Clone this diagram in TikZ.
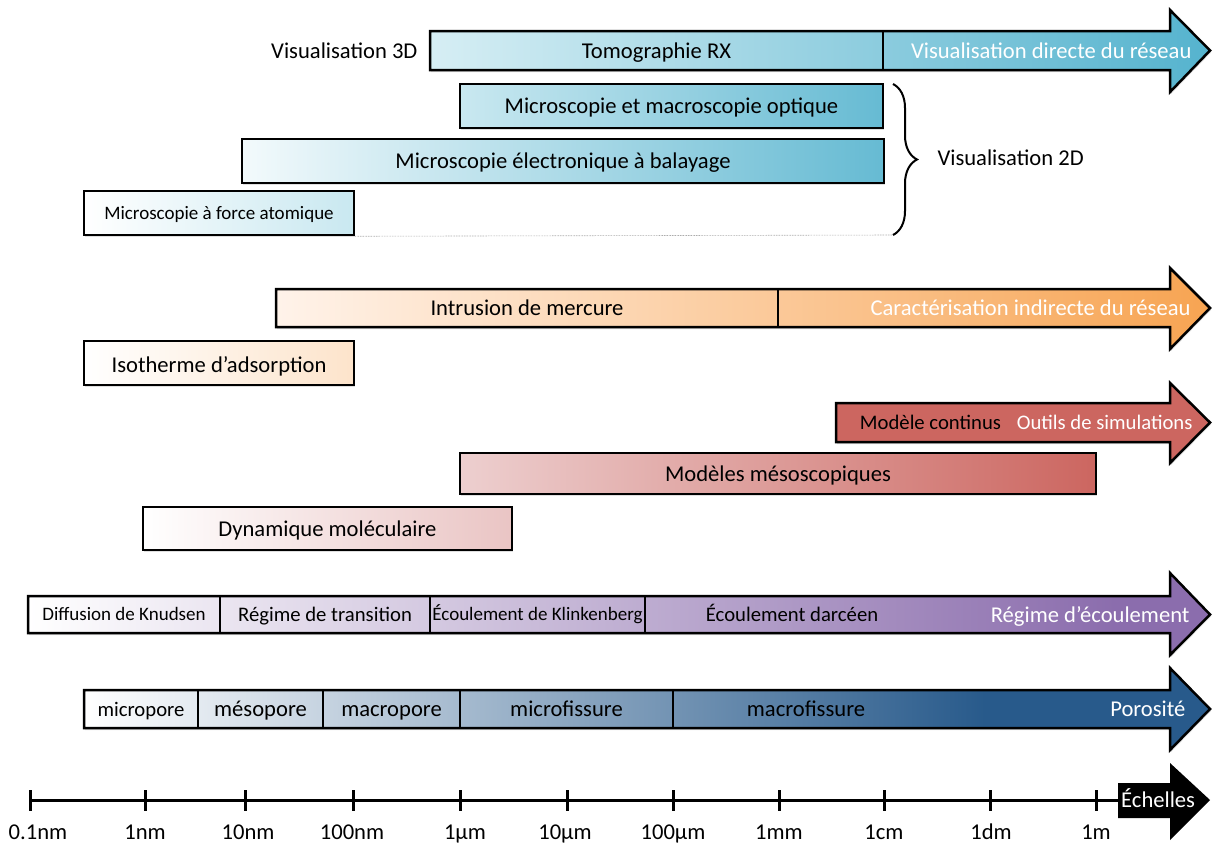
\documentclass[tikz,border=0pt]{standalone}
\usepackage{fontspec}
\setmainfont{Carlito}
\usetikzlibrary{decorations.pathreplacing,shadows}

\definecolor{bleuclair}{HTML}{D6EEF4}
\definecolor{bleu}{HTML}{55B3CE}
\definecolor{orangeclair}{HTML}{FFF3EA}
\definecolor{orangefonce}{HTML}{F7A452}
\definecolor{rouge}{HTML}{CC6660}
\definecolor{rougeclair}{HTML}{EDCFCF}
\definecolor{violet}{HTML}{8B6DAD}
\definecolor{marine}{HTML}{285A8B}

\pgfdeclarehorizontalshading{poro}{100bp}{color(0bp)=(white); color(25bp)=(white); color(65bp)=(marine); color(100bp)=(marine)}
\pgfdeclarehorizontalshading{regim}{100bp}{color(0bp)=(white); color(25bp)=(white); color(71bp)=(violet); color(100bp)=(violet)}

\tikzset{
  txt/.style={font=\fontsize{22.6}{27}\selectfont, text height=18, text depth=3},
  moyen/.style={font=\fontsize{20.7}{25}\selectfont, text height=17, text depth=3},
  petit/.style={font=\fontsize{19}{23}\selectfont, text height=15, text depth=2.5},
  ombre/.style={drop shadow={opacity=0.25, shadow xshift=1pt, shadow yshift=-2pt}},
  boite/.style={draw=black, line width=2.5pt, minimum height=44, inner sep=0pt, txt, ombre},
  fleche/.style={draw=black, line width=2.5pt, line join=miter, ombre},
  segment/.style={minimum height=38, inner sep=0pt, txt},
  trait/.style={line width=1.5pt},
}

\begin{document}
\begin{tikzpicture}[x=1pt, y=-1pt]
  \useasboundingbox (0,0) rectangle (1215,844);

  % visualisation
  \path[fleche, left color=bleuclair, right color=bleu] (430,31) -- (1170,31) -- (1170,10) -- (1210,50.5) -- (1170,92) -- (1170,70) -- (430,70) -- cycle;
  \node[segment, minimum width=453] (tomo) at (656.5,50.5) {Tomographie RX};
  \node[txt, text=white, anchor=east] (directe) at (1195,50.5) {Visualisation directe du réseau};
  \draw[trait] (tomo.north east) -- (tomo.south east);
  \node[txt, anchor=east] (vis3d) at (421,50.5) {Visualisation 3D};

  \node[boite, minimum width=423, left color=bleuclair!90!bleu, right color=bleu!90!white] (optique) at (671.5,106) {Microscopie et macroscopie optique};
  \node[boite, minimum width=642, left color=bleuclair!30, right color=bleu!90!white] (meb) at (563,161) {Microscopie électronique à balayage};
  \node[boite, petit, minimum width=270, left color=white, right color=bleuclair!90!bleu] (afm) at (219,213) {Microscopie à force atomique};

  \coordinate (acc) at (893,235);
  \draw[densely dotted, gray, line width=0.6pt] (afm.south east) -- (acc);
  \draw[decorate, decoration={brace, amplitude=24pt}, line width=2pt] (893,84) -- (acc);
  \node[txt, anchor=west] (vis2d) at (934,158) {Visualisation 2D};

  % caracterisation
  \path[fleche, left color=orangeclair, right color=orangefonce] (276,289) -- (1170,289) -- (1170,268) -- (1210,308) -- (1170,349) -- (1170,327) -- (276,327) -- cycle;
  \node[segment, minimum width=502] (mercure) at (527,308) {Intrusion de mercure};
  \node[txt, text=white, anchor=east] (indirecte) at (1194,308) {Caractérisation indirecte du réseau};
  \draw[trait] (mercure.north east) -- (mercure.south east);

  \node[boite, minimum width=270, left color=white, right color=orangefonce!30, text height=19, text depth=0] (isotherme) at (219,363) {Isotherme d’adsorption};

  % simulation
  \path[fleche, fill=rouge] (836,403) -- (1170,403) -- (1170,383) -- (1210,422.5) -- (1170,463) -- (1170,442) -- (836,442) -- cycle;
  \node[moyen] (continus) at (930.5,422.5) {Modèle continus};
  \node[moyen, text=white, anchor=east] (simul) at (1196,422.5) {Outils de simulations};

  \node[boite, minimum height=41, minimum width=636, left color=rougeclair, right color=rouge] (mesosc) at (778,473.5) {Modèles mésoscopiques};
  \node[boite, minimum height=43, minimum width=369, left color=white, right color=rougeclair!90!rouge] (dynamique) at (327.5,528.5) {Dynamique moléculaire};

  % ecoulement
  \path[fleche, shade, shading=regim] (28,596) -- (1170,596) -- (1170,573) -- (1210,614.5) -- (1170,655) -- (1170,633) -- (28,633) -- cycle;
  \node[segment, petit, minimum width=192] (knudsen) at (124,614.5) {Diffusion de Knudsen};
  \node[segment, moyen, minimum width=210] (transition) at (325,614.5) {Régime de transition};
  \node[segment, petit, minimum width=215] (klink) at (537.5,614.5) {Écoulement de Klinkenberg};
  \node[moyen] (darcy) at (792,614.5) {Écoulement darcéen};
  \node[txt, text=white, anchor=east] (regime) at (1193,614.5) {Régime d’écoulement};
  \draw[trait] (knudsen.north east) -- (knudsen.south east);
  \draw[trait] (transition.north east) -- (transition.south east);
  \draw[trait] (klink.north east) -- (klink.south east);

  % porosite
  \path[fleche, shade, shading=poro] (84,690) -- (1170,690) -- (1170,668) -- (1210,709) -- (1170,750) -- (1170,728) -- (84,728) -- cycle;
  \node[segment, moyen, minimum width=114] (micro) at (141,709) {micropore};
  \node[segment, minimum width=125] (meso) at (260.5,709) {mésopore};
  \node[segment, minimum width=137] (macro) at (391.5,709) {macropore};
  \node[segment, minimum width=213] (microf) at (566.5,709) {microfissure};
  \node[txt] (macrof) at (806,709) {macrofissure};
  \node[txt, text=white, anchor=east] (porosite) at (1189,709) {Porosité};
  \foreach \n in {micro,meso,macro,microf}
    \draw[trait] (\n.north east) -- (\n.south east);

  % echelles
  \path[fill=black] (1118,783) -- (1170,783) -- (1170,763) -- (1210,800) -- (1170,840) -- (1170,818) -- (1118,818) -- cycle;
  \node[txt, text=white, anchor=west, inner sep=0pt] (echelles) at (1121,800) {Échelles};
  \coordinate (e0) at (1118,800);
  \foreach \x/\lx/\lab [count=\i] in {30/38/0.1nm,145/145/1nm,245/248/10nm,353/352/100nm,460/465/1µm,567/565/10µm,673/673/100µm,779/779/1mm,884/884/1cm,990/991/1dm,1096/1096/1m} {
    \coordinate (t\i) at (\x,800);
    \draw[line width=3pt] (\x,790) -- (\x,811);
    \node[txt] (l\i) at (\lx,832) {\lab};
  }
  \draw[line width=3pt] (t1) -- (e0);
\end{tikzpicture}
\end{document}
